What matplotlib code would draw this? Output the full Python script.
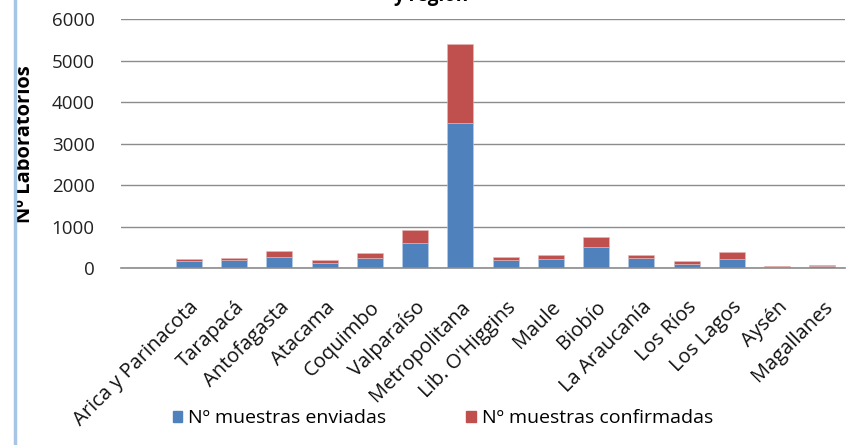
import matplotlib
matplotlib.use("Agg")
import matplotlib.pyplot as plt
from matplotlib.lines import Line2D
from matplotlib.patches import Patch

categories = ["Arica y Parinacota", "Tarapacá", "Antofagasta", "Atacama", "Coquimbo",
              "Valparaíso", "Metropolitana", "Lib. O'Higgins", "Maule", "Biobío",
              "La Araucanía", "Los Ríos", "Los Lagos", "Aysén", "Magallanes"]
enviadas = [170, 205, 265, 130, 255, 600, 3490, 205, 225, 505, 255, 110, 225, 20, 45]
confirmadas = [60, 50, 150, 70, 105, 315, 1900, 60, 105, 255, 75, 60, 160, 28, 42]
yticks = [0, 1000, 2000, 3000, 4000, 5000, 6000]

BLUE = "#4F81BD"
RED = "#C0504D"
FONT = "Open Sans"

fig = plt.figure(figsize=(8.47, 4.45), dpi=100)
ax = fig.add_axes([121/847, 1-268.3/445, (845-121)/847, (268.3-19)/445])

x = list(range(1, len(categories) + 1))
ax.bar(x, enviadas, width=0.57, color=BLUE, edgecolor="#B9CDE5", linewidth=0.4, zorder=3,
       label="Nº muestras enviadas")
ax.bar(x, confirmadas, width=0.57, bottom=enviadas, color=RED, edgecolor="#E6B9B8",
       linewidth=0.4, zorder=3, label="Nº muestras confirmadas")

ax.set_xlim(-0.5, 15.5)
ax.set_ylim(0, 6000)
ax.set_yticks(yticks)
ax.set_yticklabels([str(v) for v in yticks], fontsize=13.5, family=FONT, color="#222222")
ax.yaxis.grid(True, color="#8C8C8C", linewidth=1.0, zorder=0)
ax.set_axisbelow(True)
ax.tick_params(axis="y", length=0, pad=19)
ax.tick_params(axis="x", length=0, pad=21)
for s in ["top", "right", "left"]:
    ax.spines[s].set_visible(False)
ax.spines["bottom"].set_color("#8C8C8C")
ax.spines["bottom"].set_linewidth(1.2)
ax.spines["bottom"].set_zorder(4)

ax.set_xticks(x)
ax.set_xticklabels(categories, rotation=45, ha="right", va="top", rotation_mode="anchor",
                   fontsize=14.5, family=FONT, color="#111111")

ax.set_ylabel("Nº Laboratorios", fontsize=14.5, family=FONT, fontweight="bold")
ax.yaxis.set_label_coords((35-121)/724, 0.5)

handles = [Patch(facecolor=BLUE, edgecolor=BLUE), Patch(facecolor=RED, edgecolor=RED)]
fig.legend(handles, ["Nº muestras enviadas", "Nº muestras confirmadas"], loc="center",
           bbox_to_anchor=(443/847, 1-418/445), ncol=2, frameon=False,
           prop={"family": FONT, "size": 14}, handlelength=0.5, handleheight=0.5,
           handletextpad=0.32, columnspacing=4.1)

fig.text(393/847, 1-0.5/445, "y región", fontsize=13.5, family=FONT, fontweight="bold",
         va="baseline", ha="left")

fig.add_artist(Line2D([15/847, 15/847], [0, 1], transform=fig.transFigure,
                      color="#A8C4E6", linewidth=2.5))

fig.savefig("out.png", dpi=100)
